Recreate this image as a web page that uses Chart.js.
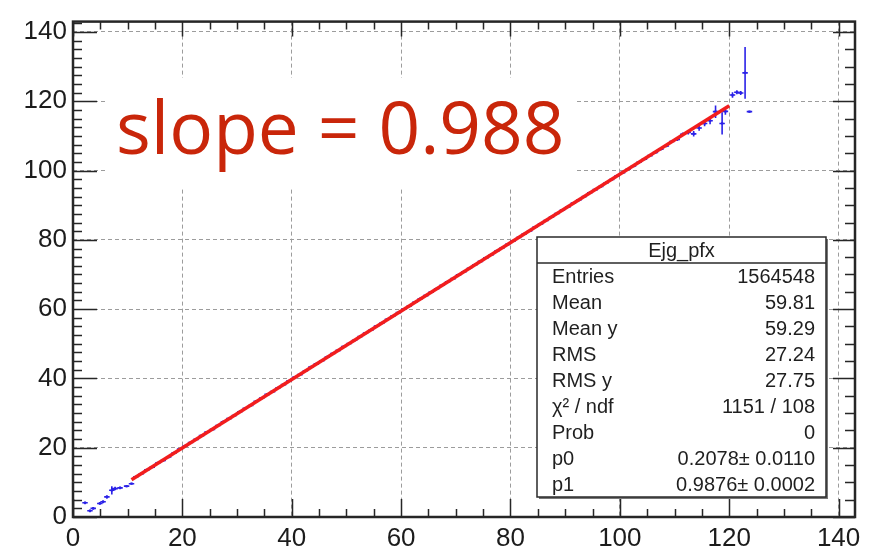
<!DOCTYPE html>
<html>
<head>
  <title>Ejg_pfx profile</title>
  <script src="https://cdn.jsdelivr.net/npm/chart.js"></script>
  <style>
    body { margin: 0; background: white; }
    canvas { display: block; }
  </style>
</head>
<body>
  <canvas id="chart" width="886" height="546"></canvas>
  <script>
    // profile bins (x centre) and mean y, with y errors
    const profX = [2.2, 3.1, 3.7, 4.9, 5.5, 6.2, 7.1, 7.7, 8.6, 9.8, 10.7,
      11.5, 12.5, 13.5, 14.5, 15.5, 16.5, 17.5, 18.5, 19.5, 20.5,
      21.5, 22.5, 23.5, 24.5, 25.5, 26.5, 27.5, 28.5, 29.5, 30.5,
      31.5, 32.5, 33.5, 34.5, 35.5, 36.5, 37.5, 38.5, 39.5, 40.5,
      41.5, 42.5, 43.5, 44.5, 45.5, 46.5, 47.5, 48.5, 49.5, 50.5,
      51.5, 52.5, 53.5, 54.5, 55.5, 56.5, 57.5, 58.5, 59.5, 60.5,
      61.5, 62.5, 63.5, 64.5, 65.5, 66.5, 67.5, 68.5, 69.5, 70.5,
      71.5, 72.5, 73.5, 74.5, 75.5, 76.5, 77.5, 78.5, 79.5, 80.5,
      81.5, 82.5, 83.5, 84.5, 85.5, 86.5, 87.5, 88.5, 89.5, 90.5,
      91.5, 92.5, 93.5, 94.5, 95.5, 96.5, 97.5, 98.5, 99.5, 100.5,
      101.5, 102.5, 103.5, 104.5, 105.5, 106.5, 107.5, 108.5, 109.5, 110.5,
      111.5, 112.5, 113.5, 114.5, 115.5, 116.5, 117.5, 118.7, 119.3,
      120.6, 121.4, 122.1, 122.9, 123.7];
    const profY = [4.1, 1.8, 2.5, 3.9, 4.4, 5.8, 7.7, 8.2, 8.4, 8.9, 9.6,
      11.6, 12.5, 13.6, 14.4, 15.6, 16.3, 17.3, 18.5, 19.6, 20.5,
      21.5, 22.4, 23.5, 24.5, 25.3, 26.4, 27.5, 28.4, 29.3, 30.4,
      31.4, 32.2, 33.4, 34.3, 35.4, 36.2, 37.3, 38.2, 39.3, 40.3,
      41.1, 42.2, 43.3, 44.2, 45.1, 46.2, 47.2, 48.1, 49.2, 50.1,
      51.0, 52.1, 53.1, 54.0, 55.1, 56.0, 57.1, 58.0, 59.0, 60.0,
      60.9, 62.0, 63.0, 63.9, 64.9, 65.9, 66.9, 67.9, 68.8, 69.9,
      70.8, 71.8, 72.8, 73.8, 74.8, 75.7, 76.8, 77.7, 78.7, 79.7,
      80.7, 81.7, 82.6, 83.7, 84.6, 85.6, 86.6, 87.6, 88.6, 89.5,
      90.6, 91.5, 92.5, 93.6, 94.5, 95.4, 96.5, 97.4, 98.5, 99.4,
      100.4, 101.3, 102.4, 103.3, 104.3, 105.2, 106.2, 107.1, 108.4, 109.0,
      110.5, 111.0, 110.6, 112.3, 113.6, 114.4, 117.0, 113.6, 117.1,
      121.8, 122.6, 122.4, 128.2, 117.0];
    const profErr = [0.4, 0.4, 0.4, 0.4, 0.4, 0.5, 1.2, 0.5, 0.4, 0.3, 0.3,
      0.2, 0.2, 0.2, 0.2, 0.2, 0.2, 0.2, 0.2, 0.2, 0.1,
      0.1, 0.1, 0.1, 0.1, 0.1, 0.1, 0.1, 0.1, 0.1, 0.1,
      0.1, 0.1, 0.1, 0.1, 0.1, 0.1, 0.1, 0.1, 0.1, 0.1,
      0.1, 0.1, 0.1, 0.1, 0.1, 0.1, 0.1, 0.1, 0.1, 0.1,
      0.1, 0.1, 0.1, 0.1, 0.1, 0.1, 0.1, 0.1, 0.1, 0.1,
      0.1, 0.1, 0.1, 0.1, 0.1, 0.1, 0.1, 0.1, 0.1, 0.1,
      0.1, 0.1, 0.1, 0.1, 0.1, 0.1, 0.1, 0.1, 0.1, 0.1,
      0.1, 0.1, 0.1, 0.1, 0.1, 0.1, 0.1, 0.1, 0.1, 0.1,
      0.1, 0.1, 0.1, 0.1, 0.1, 0.1, 0.1, 0.2, 0.2, 0.2,
      0.2, 0.2, 0.2, 0.2, 0.3, 0.3, 0.3, 0.4, 0.4, 0.5,
      0.5, 0.6, 0.8, 0.8, 0.8, 1.0, 1.8, 3.2, 1.0,
      0.8, 0.6, 0.6, 7.5, 0.3];

    // pol1 fit: p0 + p1*x over the fit range
    const p0 = 0.2078;
    const p1 = 0.9876;
    const fitX = [10.7, 120.0];

    const xTicks = [0, 20, 40, 60, 80, 100, 120, 140];
    const yTicks = [0, 20, 40, 60, 80, 100, 120, 140];

    const statNames = ["Entries", "Mean", "Mean y", "RMS", "RMS y", "\u03c7\u00b2 / ndf", "Prob", "p0", "p1"];
    const statValues = ["1564548", "59.81", "59.29", "27.24", "27.75", "1151 / 108", "0", "0.2078\u00b1 0.0110", "0.9876\u00b1 0.0002"];
    const histName = "Ejg_pfx";
    const slopeText = "slope = 0.988";

    const axisFont = "Liberation Sans, Arial, sans-serif";

    // error bars (x: half bin, y: rms error) under the markers
    const errorBars = {
      id: "errorBars",
      beforeDatasetsDraw(chart) {
        const { ctx, scales: { x, y } } = chart;
        ctx.save();
        ctx.strokeStyle = "#2b22e8";
        ctx.lineWidth = 1.6;
        ctx.beginPath();
        profX.forEach((xv, i) => {
          const py = y.getPixelForValue(profY[i]);
          const px = x.getPixelForValue(xv);
          ctx.moveTo(x.getPixelForValue(xv - 0.5), py);
          ctx.lineTo(x.getPixelForValue(xv + 0.5), py);
          ctx.moveTo(px, y.getPixelForValue(profY[i] - profErr[i]));
          ctx.lineTo(px, y.getPixelForValue(profY[i] + profErr[i]));
        });
        ctx.stroke();
        ctx.restore();
      }
    };

    // frame, inward ticks, stats box and the slope label
    const rootFrame = {
      id: "rootFrame",
      afterDraw(chart) {
        const { ctx, chartArea: a, scales: { x, y } } = chart;
        ctx.save();

        ctx.strokeStyle = "#262626";
        ctx.lineWidth = 1.5;
        ctx.beginPath();
        for (let v = 0; v <= 143; v += 2.5) {
          const py = Math.round(y.getPixelForValue(v)) + 0.5;
          const len = v % 20 === 0 ? 24 : 9;
          ctx.moveTo(a.left, py); ctx.lineTo(a.left + len, py);
        }
        for (let v = 0; v <= 143; v += 5) {
          const py = Math.round(y.getPixelForValue(v)) + 0.5;
          const len = v % 20 === 0 ? 22 : 10;
          ctx.moveTo(a.right, py); ctx.lineTo(a.right - len, py);
        }
        for (let v = 0; v <= 143; v += 5) {
          const px = Math.round(x.getPixelForValue(v)) + 0.5;
          ctx.moveTo(px, a.bottom); ctx.lineTo(px, a.bottom - (v % 20 === 0 ? 18 : 8));
          ctx.moveTo(px, a.top); ctx.lineTo(px, a.top + (v % 20 === 0 ? 15 : 8));
        }
        ctx.stroke();

        ctx.lineWidth = 2.5;
        ctx.strokeRect(a.left, a.top, a.right - a.left, a.bottom - a.top);

        // slope label on a white patch
        ctx.fillStyle = "white";
        ctx.fillRect(105, 78, 470, 110);
        ctx.fillStyle = "#c9260a";
        ctx.font = "73px 'Open Sans', 'Noto Sans', sans-serif";
        ctx.textAlign = "left";
        ctx.textBaseline = "alphabetic";
        ctx.fillText(slopeText, 116, 154);

        // stats box
        const bx = 537, by = 237, bw = 289, bh = 260, th = 26;
        ctx.fillStyle = "#777";
        ctx.fillRect(bx + 2, by + 2, bw, bh);
        ctx.fillStyle = "white";
        ctx.fillRect(bx, by, bw, bh);
        ctx.strokeStyle = "#2a2a2a";
        ctx.lineWidth = 1.5;
        ctx.strokeRect(bx, by, bw, bh);
        ctx.beginPath();
        ctx.moveTo(bx, by + th); ctx.lineTo(bx + bw, by + th);
        ctx.stroke();

        ctx.fillStyle = "#1f1f1f";
        ctx.font = "20px " + axisFont;
        ctx.textBaseline = "middle";
        ctx.textAlign = "center";
        ctx.fillText(histName, bx + bw / 2, by + 14);
        const rowH = (bh - th) / statNames.length;
        statNames.forEach((n, i) => {
          const ry = by + th + rowH * (i + 0.5) + 1;
          ctx.textAlign = "left";
          ctx.fillText(n, bx + 15, ry);
          ctx.textAlign = "right";
          ctx.fillText(statValues[i], bx + bw - 11, ry);
        });

        ctx.restore();
      }
    };

    new Chart(document.getElementById("chart"), {
      type: "scatter",
      data: {
        datasets: [{
          label: histName,
          data: profX.map((xv, i) => ({ x: xv, y: profY[i] })),
          backgroundColor: "#2b22e8",
          borderColor: "#2b22e8",
          pointStyle: "rect",
          pointRadius: 1.6,
          borderWidth: 0,
          order: 2
        }, {
          type: "line",
          label: "fit",
          data: fitX.map(xv => ({ x: xv, y: p0 + p1 * xv })),
          borderColor: "#f21d1d",
          borderWidth: 3.5,
          pointRadius: 0,
          fill: false,
          order: 1
        }]
      },
      options: {
        responsive: false,
        animation: false,
        layout: { padding: { top: 16, right: 31, left: 0, bottom: 0 } },
        plugins: { legend: { display: false }, tooltip: { enabled: false } },
        scales: {
          x: {
            type: "linear", min: 0, max: 143,
            afterFit: s => { s.height = 29; },
            afterBuildTicks: s => { s.ticks = xTicks.map(v => ({ value: v })); },
            ticks: { padding: 6, maxRotation: 0, autoSkip: false, color: "#1c1c1c",
                     font: { family: axisFont, size: 26 } },
            grid: { color: "#9c9c9c", lineWidth: 1, drawTicks: false },
            border: { display: false, dash: [4, 3] }
          },
          y: {
            type: "linear", min: 0, max: 143,
            afterFit: s => { s.width = 73; },
            afterBuildTicks: s => { s.ticks = yTicks.map(v => ({ value: v })); },
            ticks: { padding: 6, color: "#1c1c1c", font: { family: axisFont, size: 26 } },
            grid: { color: "#9c9c9c", lineWidth: 1, drawTicks: false },
            border: { display: false, dash: [4, 3] }
          }
        }
      },
      plugins: [errorBars, rootFrame]
    });
  </script>
</body>
</html>
